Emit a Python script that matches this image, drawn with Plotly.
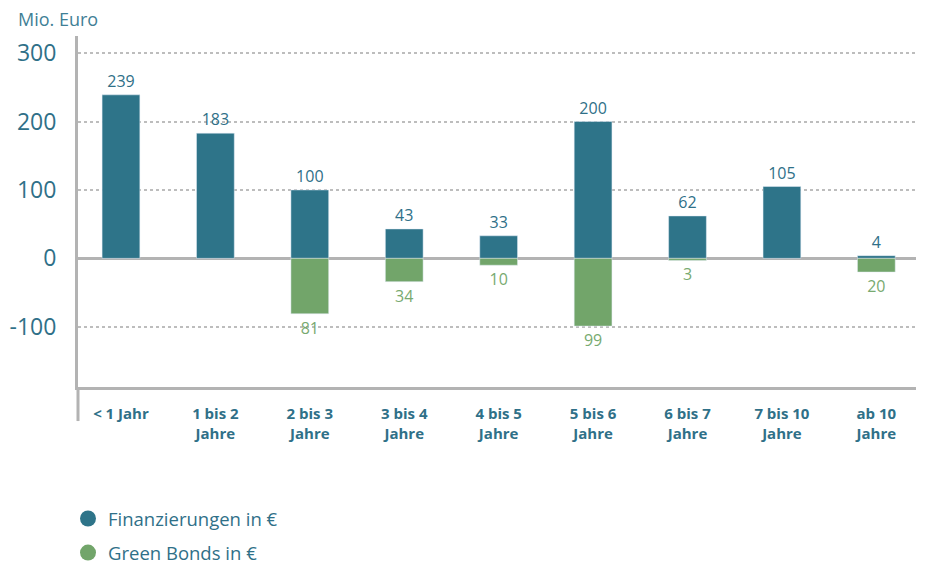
import plotly.graph_objects as go

categories = ["< 1 Jahr", "1 bis 2<br>Jahre", "2 bis 3<br>Jahre", "3 bis 4<br>Jahre", "4 bis 5<br>Jahre",
              "5 bis 6<br>Jahre", "6 bis 7<br>Jahre", "7 bis 10<br>Jahre", "ab 10<br>Jahre"]
finanzierungen = [239, 183, 100, 43, 33, 200, 62, 105, 4]
green_bonds = [None, None, -81, -34, -10, -99, -3, None, -20]
y_ticks = [300, 200, 100, 0, -100]

BLUE = "#2e7489"
GREEN = "#72a56a"
TEXT = "#2f7088"
GRAY = "#b3b3b3"
FONT = "Open Sans"

W, H = 917, 556  # page adds an 8px body margin

fig = go.Figure()
fig.add_trace(go.Bar(
    x=categories, y=finanzierungen, marker_color=BLUE, showlegend=False,
    text=[str(v) for v in finanzierungen], textposition="outside", constraintext="none",
    textfont=dict(color=TEXT, size=16, family=FONT), cliponaxis=False,
))
fig.add_trace(go.Bar(
    x=categories, y=green_bonds, marker_color=GREEN, showlegend=False,
    text=["" if v is None else str(abs(v)) for v in green_bonds], textposition="outside",
    constraintext="none",
    textfont=dict(color="#78aa70", size=16, family=FONT), cliponaxis=False,
))
# legend entries with round markers
fig.add_trace(go.Scatter(x=[None], y=[None], mode="markers", name="Finanzierungen in €",
                         legendgroup="a", marker=dict(color=BLUE, size=18, symbol="circle")))
fig.add_trace(go.Scatter(x=[None], y=[None], mode="markers", name="Green Bonds in €",
                         legendgroup="b", marker=dict(color=GREEN, size=18, symbol="circle")))

fig.update_layout(
    width=W, height=H,
    margin=dict(l=70, r=9, t=28, b=177, autoexpand=False),
    plot_bgcolor="white", paper_bgcolor="white",
    barmode="relative", bargap=0.6,
    font=dict(family=FONT, color=TEXT),
    showlegend=True,
    legend=dict(orientation="v", xref="container", yref="container",
                x=60 / W, xanchor="left", y=1 - 492 / H, yanchor="top",
                font=dict(size=18.5, color=TEXT, family=FONT), itemsizing="trace",
                tracegroupgap=7, itemwidth=30, bgcolor="rgba(0,0,0,0)"),
)
fig.update_xaxes(
    range=[-0.455, 8.42],
    showline=True, linecolor=GRAY, linewidth=3, showgrid=False, ticks="",
    tickfont=dict(size=15, color=TEXT, family=FONT, weight="bold"),
    ticklabelstandoff=11, fixedrange=True, automargin=False,
)
fig.update_yaxes(
    range=[-188, 325], tickvals=y_ticks, ticktext=[str(v) for v in y_ticks],
    showgrid=True, gridcolor="#bdbdbd", gridwidth=2, griddash="dot",
    zeroline=True, zerolinecolor=GRAY, zerolinewidth=3,
    showline=True, linecolor=GRAY, linewidth=3,
    tickfont=dict(size=23, color=TEXT, family=FONT), ticks="", ticklabelstandoff=14,
    fixedrange=True, automargin=False,
)
# extension of the y-axis line below the x-axis
fig.add_shape(type="line", xref="paper", yref="paper", x0=0, x1=0, y0=-0.097, y1=0,
              line=dict(color=GRAY, width=3))
fig.add_annotation(text="Mio. Euro", xref="paper", yref="paper", x=-61 / 838, y=1 + 17 / 351,
                   xanchor="left", yanchor="middle", showarrow=False, borderpad=0,
                   font=dict(size=18, color="#3f7f96", family=FONT))

fig.write_html("out.html")
